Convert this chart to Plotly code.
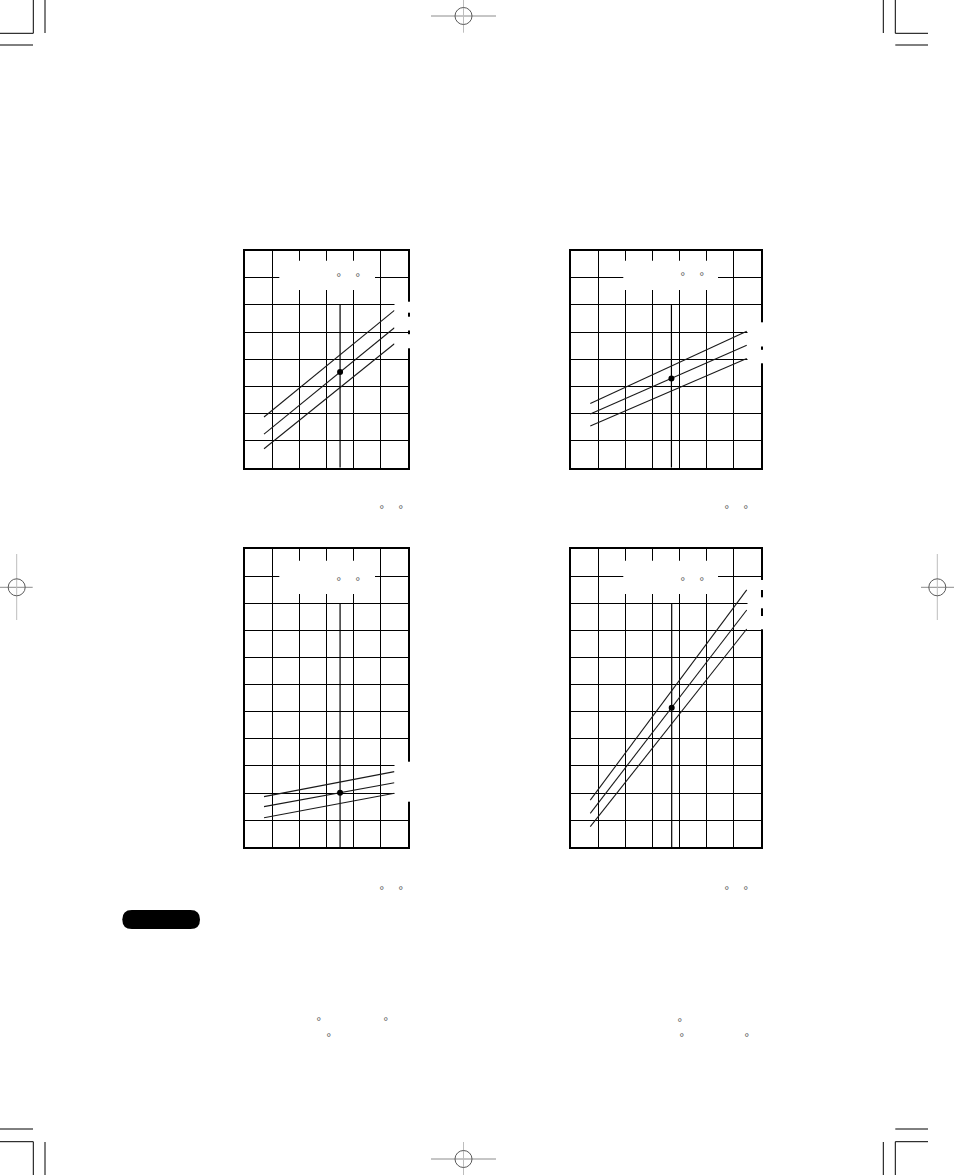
import plotly.graph_objects as go

W, H = 954, 1175

# ---------------- data ----------------
# Chart 1 (top-left): x 14..26, y 60..140
c1_x = [15.4, 25.0]
c1_hi = [78.7, 118.0]
c1_mid = [72.4, 111.6]
c1_lo = [67.0, 105.7]
c1_ref_x = 21.0
c1_ref_y = 95.3

# Chart 2 (top-right): x 0..14, y 60..140
c2_x = [1.42, 12.95]
c2_hi = [83.7, 110.3]
c2_mid = [79.8, 105.1]
c2_lo = [75.4, 100.3]
c2_ref_x = 7.4
c2_ref_y = 92.9

# Chart 3 (bottom-left): x 14..26, y 0..110
c3_x = [15.4, 25.0]
c3_hi = [18.7, 27.9]
c3_mid = [15.0, 23.8]
c3_lo = [10.9, 19.9]
c3_ref_x = 21.0
c3_ref_y = 20.1

# Chart 4 (bottom-right): x 0..14, y 0..110
c4_x = [1.42, 12.95]
c4_hi = [17.4, 94.9]
c4_mid = [12.5, 87.5]
c4_lo = [7.6, 80.5]
c4_ref_x = 7.42
c4_ref_y = 51.5

charts = [
    dict(x=c1_x, series=[c1_hi, c1_mid, c1_lo], rx=c1_ref_x, ry=c1_ref_y,
         xr=[14, 26], xd=2, yr=[60, 140], yd=10, reftop=120,
         px=(245, 408), py=(250.7, 467.7)),
    dict(x=c2_x, series=[c2_hi, c2_mid, c2_lo], rx=c2_ref_x, ry=c2_ref_y,
         xr=[0, 14], xd=2, yr=[60, 140], yd=10, reftop=120,
         px=(571, 761), py=(250.7, 467.7)),
    dict(x=c3_x, series=[c3_hi, c3_mid, c3_lo], rx=c3_ref_x, ry=c3_ref_y,
         xr=[14, 26], xd=2, yr=[0, 110], yd=10, reftop=90,
         px=(245, 408), py=(549, 847.3)),
    dict(x=c4_x, series=[c4_hi, c4_mid, c4_lo], rx=c4_ref_x, ry=c4_ref_y,
         xr=[0, 14], xd=2, yr=[0, 110], yd=10, reftop=90,
         px=(571, 761), py=(549, 847.3)),
]


def X(p):
    return p / W


def Y(p):
    return 1 - p / H


fig = go.Figure()
layout = dict(width=W, height=H, margin=dict(l=0, r=0, t=0, b=0),
              paper_bgcolor="white", plot_bgcolor="white", showlegend=False,
              hovermode=False)

shapes = []
annotations = []

for i, c in enumerate(charts):
    n = "" if i == 0 else str(i + 1)
    xa, ya = "x" + n, "y" + n
    layout["xaxis" + n] = dict(
        domain=[X(c["px"][0]), X(c["px"][1])], range=c["xr"], tick0=c["xr"][0], dtick=c["xd"],
        showgrid=True, gridcolor="black", gridwidth=1, showticklabels=False, ticks="",
        showline=True, linecolor="black", linewidth=2, mirror=True, zeroline=False,
        anchor=ya, fixedrange=True)
    layout["yaxis" + n] = dict(
        domain=[Y(c["py"][1]), Y(c["py"][0])], range=c["yr"], tick0=c["yr"][0], dtick=c["yd"],
        showgrid=True, gridcolor="black", gridwidth=1, showticklabels=False, ticks="",
        showline=True, linecolor="black", linewidth=2, mirror=True, zeroline=False,
        anchor=xa, fixedrange=True)
    # reference vertical line
    fig.add_trace(go.Scatter(x=[c["rx"], c["rx"]], y=[c["yr"][0], c["reftop"]], mode="lines",
                             line=dict(color="black", width=1.2), xaxis=xa, yaxis=ya))
    for s in c["series"]:
        fig.add_trace(go.Scatter(x=c["x"], y=s, mode="lines",
                                 line=dict(color="#1a1a1a", width=1.1), xaxis=xa, yaxis=ya))
    fig.add_trace(go.Scatter(x=[c["rx"]], y=[c["ry"]], mode="markers",
                             marker=dict(color="black", size=6), xaxis=xa, yaxis=ya))


def rect(x0, y0, x1, y1, fill="white"):
    shapes.append(dict(type="rect", xref="paper", yref="paper", x0=X(x0), x1=X(x1),
                       y0=Y(y1), y1=Y(y0), fillcolor=fill, line=dict(width=0), layer="above"))


# title label boxes (white)
rect(279.3, 260.7, 375, 290)
rect(623.3, 260.7, 718, 290)
rect(279.3, 560.7, 375, 594)
rect(623.3, 560.7, 718, 594)
# right-side label boxes
for y0, y1 in [(301.7, 312.7), (316.7, 330.5), (334.2, 348.3)]:
    rect(394.5, y0, 414, y1)
for y0, y1 in [(322.3, 346.5), (349.8, 363.3)]:
    rect(747.5, y0, 767, y1)
rect(394.5, 761.7, 414, 801.7)
for y0, y1 in [(580, 590), (597.3, 608.3), (616, 629.3)]:
    rect(747.5, y0, 767, y1)


def line(x0, y0, x1, y1, color="black", width=1):
    shapes.append(dict(type="line", xref="paper", yref="paper", x0=X(x0), x1=X(x1),
                       y0=Y(y0), y1=Y(y1), line=dict(color=color, width=width), layer="above"))


# crop marks
for (x0, y0, x1, y1) in [
    (33.3, 0, 33.3, 33.3), (0, 33.3, 33.3, 33.3), (45, 0, 45, 33), (0, 45, 33, 45),
    (883.3, 0, 883.3, 33), (895.3, 0, 895.3, 33.3), (895.3, 33.3, 928, 33.3), (895.3, 45, 928, 45),
    (0, 1129, 33, 1129), (0, 1141.7, 33.3, 1141.7), (33.3, 1141.7, 33.3, 1175), (45, 1142, 45, 1175),
    (895.3, 1129, 928, 1129), (895.3, 1141.7, 928, 1141.7), (895.3, 1141.7, 895.3, 1175),
    (883.3, 1142, 883.3, 1175)]:
    line(x0, y0, x1, y1)

# registration marks
for (cx, cy, hx0, hx1, vy0, vy1) in [
    (463.5, 16, 431, 496, 0, 32.7), (463.5, 1159, 431, 496, 1142, 1175),
    (16.7, 587.3, 0, 32.7, 554, 620), (937.3, 587.3, 921, 954, 554, 620)]:
    line(hx0, cy, hx1, cy, color="#8c8c8c", width=1)
    line(cx, vy0, cx, vy1, color="#bdbdbd", width=1)
    shapes.append(dict(type="circle", xref="paper", yref="paper", x0=X(cx - 8.5), x1=X(cx + 8.5),
                       y0=Y(cy + 8.5), y1=Y(cy - 8.5), line=dict(color="#5a5a5a", width=1),
                       layer="above"))

# black pill
px0, px1, py0, py1, r = 122.3, 200, 910, 929, 9.5
path = (f"M {X(px0 + r)},{Y(py0)} L {X(px1 - r)},{Y(py0)} "
        f"Q {X(px1)},{Y(py0)} {X(px1)},{Y((py0 + py1) / 2)} "
        f"Q {X(px1)},{Y(py1)} {X(px1 - r)},{Y(py1)} L {X(px0 + r)},{Y(py1)} "
        f"Q {X(px0)},{Y(py1)} {X(px0)},{Y((py0 + py1) / 2)} "
        f"Q {X(px0)},{Y(py0)} {X(px0 + r)},{Y(py0)} Z")
shapes.append(dict(type="path", xref="paper", yref="paper", path=path, fillcolor="black",
                   line=dict(width=0), layer="above"))

# degree symbols (the only visible glyphs of the page's text)
deg_pos = [(339.3, 274.3), (358.3, 274.3), (683.3, 273.7), (702.3, 273.7),
           (339.3, 578), (358.3, 578), (683.3, 578), (702.3, 578),
           (381.7, 506.7), (400.7, 506.7), (726.7, 506.7), (745.7, 506.7),
           (381.7, 887), (400.7, 887), (726.7, 887), (745.7, 887),
           (319, 1018.7), (385.7, 1018.7), (329, 1034.7),
           (680, 1019), (682, 1034.7), (747, 1034.7)]
for (dx, dy) in deg_pos:
    annotations.append(dict(x=X(dx), y=Y(dy), xref="paper", yref="paper", text="°",
                            showarrow=False, xanchor="center", yanchor="middle", yshift=-3,
                            font=dict(family="DejaVu Sans", size=11, color="#666666")))

layout["shapes"] = shapes
layout["annotations"] = annotations
fig.update_layout(**layout)

fig.write_html("out.html", config={"displayModeBar": False, "staticPlot": True},
               post_script="document.body.style.margin='0';document.body.style.overflow='hidden';")
